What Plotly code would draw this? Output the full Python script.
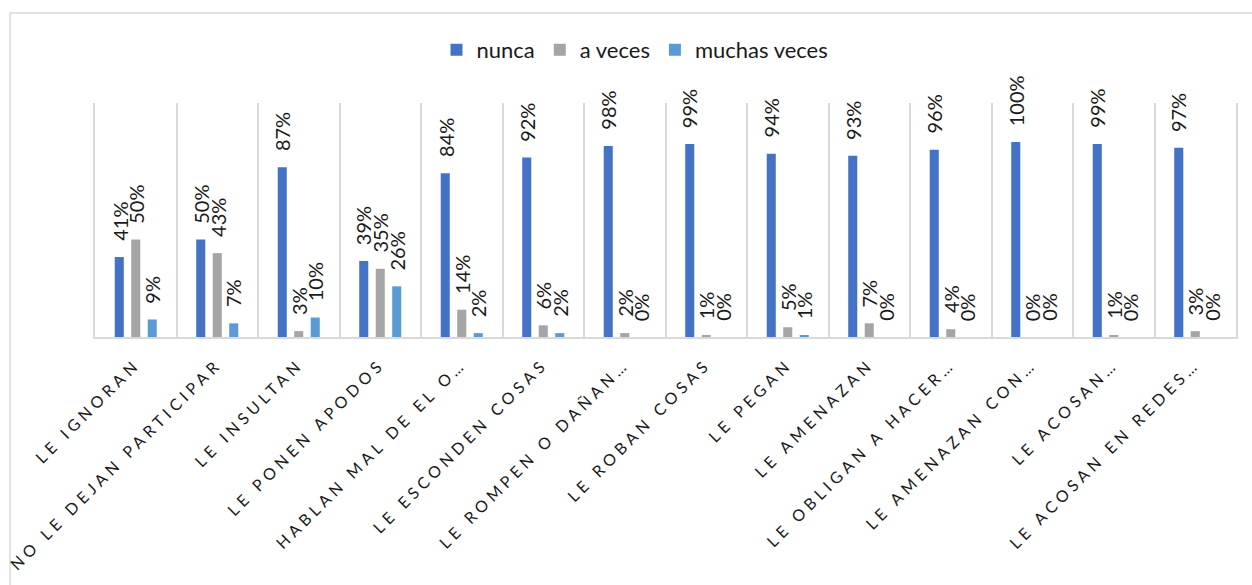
import plotly.graph_objects as go

categories = [
    "LE IGNORAN",
    "NO LE DEJAN PARTICIPAR",
    "LE INSULTAN",
    "LE PONEN APODOS",
    "HABLAN MAL DE EL O…",
    "LE ESCONDEN COSAS",
    "LE ROMPEN O DAÑAN…",
    "LE ROBAN COSAS",
    "LE PEGAN",
    "LE AMENAZAN",
    "LE OBLIGAN A HACER…",
    "LE AMENAZAN CON…",
    "LE ACOSAN…",
    "LE ACOSAN EN REDES…",
]
nunca = [0.41, 0.50, 0.87, 0.39, 0.84, 0.92, 0.98, 0.99, 0.94, 0.93, 0.96, 1.00, 0.99, 0.97]
a_veces = [0.50, 0.43, 0.03, 0.35, 0.14, 0.06, 0.02, 0.01, 0.05, 0.07, 0.04, 0.00, 0.01, 0.03]
muchas_veces = [0.09, 0.07, 0.10, 0.26, 0.02, 0.02, 0.00, 0.00, 0.01, 0.00, 0.00, 0.00, 0.00, 0.00]

series = [
    ("nunca", nunca, "#4472C4"),
    ("a veces", a_veces, "#A5A5A5"),
    ("muchas veces", muchas_veces, "#5B9BD5"),
]

W, H = 1252, 585
ml, mr, mt, mb = 95, 16, 103, 248
pw, ph = W - ml - mr, H - mt - mb
bargap, bargroupgap = 0.393, 0.45
cat_w = pw / len(categories)
slot = cat_w * (1 - bargap) / len(series)

def px_x(x):
    return (x - ml) / pw

def px_y(y):
    return (H - mb - y) / ph

fig = go.Figure()
annotations = []
for i, (name, vals, color) in enumerate(series):
    fig.add_trace(go.Bar(
        x=categories, y=vals, name=name,
        marker=dict(color=color, line=dict(width=0)),
        hoverinfo="skip",
    ))
    offset = (i - (len(series) - 1) / 2) * slot
    for c, v in zip(categories, vals):
        annotations.append(dict(
            x=c, y=v, xref="x", yref="y",
            text=f"{round(v * 100):d}%", showarrow=False,
            textangle=-90, xanchor="center", yanchor="bottom",
            xshift=offset, yshift=14,
            font=dict(family="Lato", size=20, color="#1a1a1a"),
        ))

fig.update_layout(
    width=W, height=H,
    margin=dict(l=ml, r=mr, t=mt, b=mb, autoexpand=False),
    paper_bgcolor="white", plot_bgcolor="white",
    barmode="group", bargap=bargap, bargroupgap=bargroupgap,
    showlegend=True,
    legend=dict(
        orientation="h", x=px_x(635), xanchor="center",
        y=px_y(50), yanchor="middle",
        font=dict(family="Lato", size=22, color="#1a1a1a"),
        itemwidth=30, bgcolor="rgba(0,0,0,0)",
    ),
    font=dict(family="Lato"),
    xaxis=dict(
        type="category", tickson="boundaries",
        showgrid=True, gridcolor="#D9D9D9", gridwidth=1.5,
        showline=True, linecolor="#D9D9D9", linewidth=1.5,
        ticks="", tickangle=-45,
        tickfont=dict(family="Lato", size=16, color="#1a1a1a"),
        automargin=False, ticklabelstandoff=10,
    ),
    yaxis=dict(
        range=[0, 1.2], showgrid=False, showticklabels=False,
        zeroline=False, showline=True, mirror=True,
        linecolor="#D9D9D9", linewidth=1.5,
        ticks="", automargin=False,
    ),
    annotations=annotations,
    shapes=[dict(
        type="rect", xref="paper", yref="paper",
        x0=px_x(10), x1=px_x(1262), y0=px_y(600), y1=px_y(13),
        line=dict(color="#D9D9D9", width=1.5), fillcolor="rgba(0,0,0,0)",
        layer="below",
    )],
)

post = """
document.body.style.margin = '0';
var gd = document.getElementById('{plot_id}');
gd.querySelectorAll('.xtick text').forEach(function(t){ t.style.letterSpacing = '4.4px'; });
"""

fig.write_html("out.html", post_script=post, config={"responsive": False, "displayModeBar": False})
